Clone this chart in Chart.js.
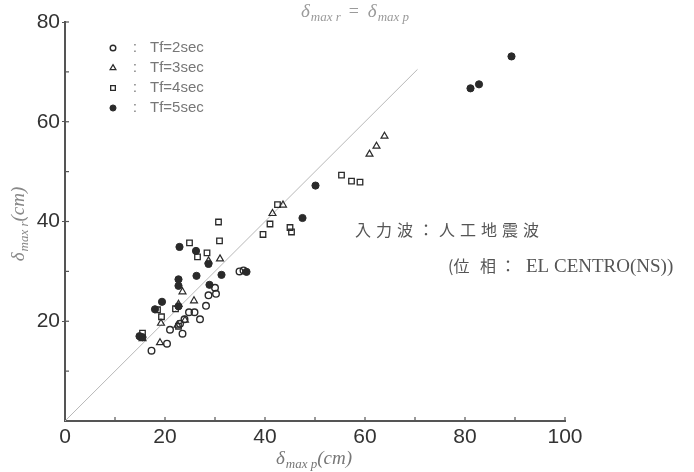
<!DOCTYPE html>
<html><head><meta charset="utf-8">
<script src="https://cdn.jsdelivr.net/npm/chart.js@4.4.1/dist/chart.umd.min.js"></script>
<style>html,body{margin:0;padding:0;background:#fff;}#wrap{width:694px;height:472px;position:relative;}</style>
</head><body><div id="wrap"><canvas id="c" width="694" height="472"></canvas></div>
<script>
// Data: [delta_max_p (cm), delta_max_r (cm)]
const tf2 = [[17.3,14.1],[20.4,15.5],[21,18.3],[23.5,17.5],[23,19.5],[23.9,20.4],[27,20.4],[24.8,21.8],[25.9,21.8],[28.2,23.1],[28.7,25.2],[30.2,25.5],[30,26.7],[34.9,30.0],[35.7,30.2]];
const tf3 = [[15.5,16.5],[19,15.7],[19.2,19.6],[22.5,19.2],[24,20.2],[22.7,23.4],[23.5,25.9],[25.8,24.1],[28.7,32.1],[31,32.5],[41.5,41.6],[43.6,43.3],[60.9,53.5],[62.3,55.1],[63.9,57.1]];
const tf4 = [[15.5,17.6],[19.3,20.9],[18.5,22.3],[22.1,22.5],[22.7,19.0],[26.5,32.9],[28.4,33.7],[24.9,35.7],[30.9,36.1],[30.7,39.9],[39.6,37.4],[41,39.5],[42.5,43.4],[45,38.8],[45.3,37.9],[55.3,49.3],[57.3,48.1],[59,47.9]];
const tf5 = [[14.9,17.0],[15.5,16.8],[18.0,22.4],[19.4,23.9],[22.7,23.0],[22.7,27.1],[22.7,28.4],[22.9,34.9],[26.2,34.1],[28.7,31.5],[26.3,29.1],[28.9,27.3],[31.3,29.3],[36.3,29.9],[47.5,40.7],[50.1,47.2],[81.1,66.7],[82.8,67.5],[89.3,73.1]];
const equalLine = [[0,0],[70.5,70.5]];
const legendLabels = ['Tf=2sec','Tf=3sec','Tf=4sec','Tf=5sec'];
const xTicks = [0,20,40,60,80,100];
const yTicks = [20,40,60,80];

const toPts = a => a.map(p => ({x:p[0], y:p[1]}));
const INK = '#2a2a2a';

const styles = [
  {pointStyle:'circle', backgroundColor:'rgba(0,0,0,0)', borderColor:INK, radius:3.3, borderWidth:1.4},
  {pointStyle:'triangle', backgroundColor:'rgba(0,0,0,0)', borderColor:INK, radius:4.0, borderWidth:1.2},
  {pointStyle:'rect', backgroundColor:'rgba(0,0,0,0)', borderColor:INK, radius:3.9, borderWidth:1.3},
  {pointStyle:'circle', backgroundColor:INK, borderColor:INK, radius:3.6, borderWidth:1}
];
const series = [tf2, tf3, tf4, tf5];

const datasets = [{
  type:'line', label:'eq', data: toPts(equalLine), borderColor:'#b8b8b8', borderWidth:1,
  pointRadius:0, fill:false, order:10
}].concat(series.map((s,i) => ({
  type:'scatter', label: legendLabels[i], data: toPts(s),
  pointStyle: styles[i].pointStyle, backgroundColor: styles[i].backgroundColor,
  borderColor: styles[i].borderColor, pointRadius: styles[i].radius,
  pointBorderWidth: styles[i].borderWidth, order: 1
})));

const SERIF = '"Liberation Serif", "DejaVu Serif", serif';
function drawDelta(ctx, x, y, sub, tail, size, color) {
  ctx.save();
  ctx.fillStyle = color;
  ctx.textBaseline = 'alphabetic';
  ctx.textAlign = 'left';
  ctx.font = 'italic ' + size + 'px ' + SERIF;
  ctx.fillText('δ', x, y);
  let w = ctx.measureText('δ').width;
  ctx.font = 'italic ' + Math.round(size*0.7) + 'px ' + SERIF;
  ctx.fillText(sub, x + w + 1, y + size*0.22);
  w += 1 + ctx.measureText(sub).width;
  if (tail) {
    ctx.font = 'italic ' + size + 'px ' + SERIF;
    ctx.fillText(tail, x + w, y);
    w += ctx.measureText(tail).width;
  }
  ctx.restore();
  return w;
}
function measureDelta(ctx, sub, tail, size) {
  ctx.save();
  ctx.font = 'italic ' + size + 'px ' + SERIF;
  let w = ctx.measureText('δ').width + 1;
  const tw = tail ? ctx.measureText(tail).width : 0;
  ctx.font = 'italic ' + Math.round(size*0.7) + 'px ' + SERIF;
  w += ctx.measureText(sub).width + tw;
  ctx.restore();
  return w;
}

const decor = {
  id:'decor',
  afterDraw(chart) {
    const ctx = chart.ctx, xs = chart.scales.x, ys = chart.scales.y;
    const x0 = xs.getPixelForValue(0), y0 = ys.getPixelForValue(0);
    ctx.save();
    // minor tick marks (inside)
    ctx.strokeStyle = '#555'; ctx.lineWidth = 1.2;
    for (let v = 10; v <= 100; v += 10) {
      const px = xs.getPixelForValue(v);
      ctx.beginPath(); ctx.moveTo(px, y0); ctx.lineTo(px, y0 - 4); ctx.stroke();
    }
    for (let v = 10; v <= 80; v += 10) {
      const py = ys.getPixelForValue(v);
      ctx.beginPath(); ctx.moveTo(x0, py); ctx.lineTo(x0 + 4, py); ctx.stroke();
    }
    // legend
    const lx = 113, ly = [48, 68, 88, 108];
    ly.forEach((yy, i) => {
      ctx.fillStyle = styles[i].backgroundColor; ctx.strokeStyle = styles[i].borderColor;
      ctx.lineWidth = styles[i].borderWidth;
      Chart.helpers.drawPoint(ctx, {pointStyle: styles[i].pointStyle, radius: styles[i].radius*0.85, borderWidth: styles[i].borderWidth, rotation:0}, lx, yy);
      ctx.font = '14px "Liberation Sans Narrow", "Liberation Sans", sans-serif';
      ctx.fillStyle = '#777'; ctx.textBaseline = 'middle'; ctx.textAlign = 'left';
      ctx.fillText(':', 133, yy);
      ctx.font = '15px "Liberation Sans Narrow", "Liberation Sans", sans-serif';
      ctx.fillText(legendLabels[i], 150, yy);
    });
    // x axis title
    const xw = measureDelta(ctx, 'max p', '(cm)', 19);
    drawDelta(ctx, 314 - xw/2, 464, 'max p', '(cm)', 19, '#777');
    // y axis title (rotated)
    ctx.save();
    ctx.translate(24, 224); ctx.rotate(-Math.PI/2);
    const yw = measureDelta(ctx, 'max r', '(cm)', 19);
    drawDelta(ctx, -yw/2, 0, 'max r', '(cm)', 19, '#888');
    ctx.restore();
    // equality annotation
    let w1 = drawDelta(ctx, 301, 17, 'max r', '', 19, '#9a9a9a');
    ctx.font = '18px ' + SERIF; ctx.fillStyle = '#9a9a9a';
    ctx.textBaseline = 'alphabetic'; ctx.textAlign = 'left';
    ctx.fillText('=', 301 + w1 + 8, 17);
    drawDelta(ctx, 301 + w1 + 27, 17, 'max p', '', 19, '#9a9a9a');
    // Japanese annotation
    ctx.fillStyle = '#555'; ctx.textBaseline = 'alphabetic'; ctx.textAlign = 'left';
    ctx.font = '16px "Noto Sans CJK JP", sans-serif';
    const line1 = ['入','力','波','：','人','工','地','震','波'];
    let cx = 355;
    line1.forEach(ch => { ctx.fillText(ch, cx, 236); cx += 21; });
    ctx.fillText('(位', 448, 272);
    ctx.fillText('相', 480, 272);
    ctx.fillText('：', 500, 272);
    ctx.font = '19px ' + SERIF;
    ctx.fillText('EL CENTRO(NS))', 526, 272);
    ctx.restore();
  }
};

new Chart(document.getElementById('c'), {
  data: { datasets },
  options: {
    responsive:false, animation:false,
    layout:{ padding:{ left:0, right:129, top:22, bottom:0 } },
    plugins:{ legend:{display:false}, tooltip:{enabled:false} },
    scales:{
      x:{ type:'linear', min:0, max:100,
        afterFit: s => { s.height = 51; },
        afterBuildTicks: s => { s.ticks = xTicks.map(v => ({value:v})); },
        grid:{ display:false, drawTicks:false },
        border:{ display:true, color:'#555', width:2 },
        ticks:{ color:'#333', padding:4, font:{ family:'"Liberation Sans Narrow", "Liberation Sans", sans-serif', size:21 } }
      },
      y:{ type:'linear', min:0, max:80,
        afterFit: s => { s.width = 65; },
        afterBuildTicks: s => { s.ticks = yTicks.map(v => ({value:v})); },
        grid:{ display:true, drawOnChartArea:false, drawTicks:true, tickLength:3, color:'#555' },
        border:{ display:true, color:'#555', width:2 },
        ticks:{ color:'#333', padding:2, font:{ family:'"Liberation Sans Narrow", "Liberation Sans", sans-serif', size:21 } }
      }
    }
  },
  plugins:[decor]
});
</script></body></html>
